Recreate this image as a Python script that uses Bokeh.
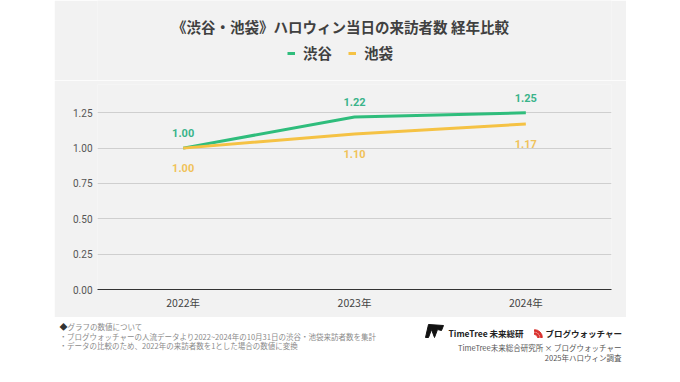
from bokeh.plotting import figure
from bokeh.models import (Range1d, FactorRange, FixedTicker, NumeralTickFormatter,
                          Legend, LegendItem, Spacer, ColumnDataSource)
from bokeh.layouts import column, row
from bokeh.core.properties import value
from bokeh.embed import file_html
from bokeh.resources import INLINE

# ---------------- data ----------------
years = ["2022年", "2023年", "2024年"]
shibuya = [1.00, 1.22, 1.25]
ikebukuro = [1.00, 1.10, 1.17]
series_names = ["渋谷", "池袋"]
y_ticks = [0.0, 0.25, 0.50, 0.75, 1.00, 1.25]
title_text = "《渋谷・池袋》ハロウィン当日の来訪者数 経年比較"
note_head = "グラフの数値について"
notes = [
    "・ブログウォッチャーの人流データより2022~2024年の10月31日の渋谷・池袋来訪者数を集計",
    "・データの比較のため、2022年の来訪者数を1とした場合の数値に変換",
]
brand_1 = "TimeTree 未来総研"
brand_2 = "ブログウォッチャー"
credit_lines = ["TimeTree未来総合研究所 × ブログウォッチャー", "2025年ハロウィン調査"]

# ---------------- style ----------------
BG = "#f2f2f2"
GREEN = "#2fbd7c"
GREEN_LBL = "#3ab48a"
YELLOW = "#f5c244"
YELLOW_LBL = "#f0c25a"
CJK = "Noto Sans CJK JP"
NUM = "Roboto"
NAN = float("nan")

# ---------------- header (title + legend) ----------------
# frames in a column are aligned, so the header frame matches the chart frame (x 97..611)
header = figure(width=572, height=80, x_range=Range1d(97, 611), y_range=Range1d(80, 0),
                x_axis_type=None, y_axis_type=None, toolbar_location=None,
                output_backend="svg", min_border_left=43, min_border_right=15,
                min_border_top=0, min_border_bottom=0, background_fill_color=BG,
                border_fill_color=BG, outline_line_color=None)
header.text(x=[340], y=[25.5], text=[title_text], text_align="center",
            text_baseline="middle", text_font=value(CJK), text_font_size="14.5px",
            text_font_style="bold", text_color="#404040")
r_g = header.line(x=[NAN], y=[NAN], line_color=GREEN, line_width=3)
r_y = header.line(x=[NAN], y=[NAN], line_color=YELLOW, line_width=3)
legend = Legend(items=[LegendItem(label=series_names[0], renderers=[r_g]),
                       LegendItem(label=series_names[1], renderers=[r_y])],
                orientation="horizontal", location=(190, 17), padding=0, margin=0,
                spacing=16, label_standoff=8, glyph_width=8, glyph_height=16,
                label_height=16, label_text_font=CJK, label_text_font_size="14.5px",
                label_text_font_style="bold", label_text_color="#404040",
                label_text_baseline="middle", border_line_color=None,
                background_fill_alpha=0)
header.add_layout(legend)

# ---------------- main chart ----------------
p = figure(width=572, height=237, x_range=FactorRange(*years, range_padding=0),
           y_range=Range1d(0, 1.45), toolbar_location=None, output_backend="svg",
           min_border_left=43, min_border_right=15, min_border_top=4, min_border_bottom=28,
           background_fill_color=BG, border_fill_color=BG, outline_line_color=None)

p.line(x=years, y=shibuya, line_color=GREEN, line_width=3)
p.line(x=years, y=ikebukuro, line_color=YELLOW, line_width=3)

src_g = ColumnDataSource(dict(x=years, y=shibuya, t=[f"{v:.2f}" for v in shibuya]))
src_y = ColumnDataSource(dict(x=years, y=ikebukuro, t=[f"{v:.2f}" for v in ikebukuro]))
p.text(x="x", y="y", text="t", source=src_g, y_offset=-15, text_align="center",
       text_baseline="middle", text_font=value(NUM), text_font_size="11px",
       text_font_style="bold", text_color=GREEN_LBL)
p.text(x="x", y="y", text="t", source=src_y, y_offset=20, text_align="center",
       text_baseline="middle", text_font=value(NUM), text_font_size="11px",
       text_font_style="bold", text_color=YELLOW_LBL)

p.xgrid.grid_line_color = None
p.ygrid.grid_line_color = "#cfcfcf"
p.ygrid.grid_line_width = 1

p.yaxis.ticker = FixedTicker(ticks=y_ticks)
p.yaxis.formatter = NumeralTickFormatter(format="0.00")
p.yaxis.axis_line_color = None
p.yaxis.major_tick_line_color = None
p.yaxis.minor_tick_line_color = None
p.yaxis.major_tick_out = 0
p.yaxis.major_label_standoff = 5
p.yaxis.major_label_text_font = NUM
p.yaxis.major_label_text_font_size = "10px"
p.yaxis.major_label_text_color = "#555555"

p.xaxis.axis_line_color = "#333333"
p.xaxis.axis_line_width = 1.2
p.xaxis.major_tick_line_color = None
p.xaxis.minor_tick_line_color = None
p.xaxis.major_tick_out = 0
p.xaxis.major_label_standoff = 5
p.xaxis.major_label_text_font = CJK
p.xaxis.major_label_text_font_size = "10.5px"
p.xaxis.major_label_text_color = "#444444"

# ---------------- footer ----------------
f = figure(width=672, height=65, x_range=Range1d(0, 672), y_range=Range1d(382, 317),
           x_axis_type=None, y_axis_type=None, toolbar_location=None,
           output_backend="svg", min_border=0, background_fill_color="white",
           border_fill_color="white", outline_line_color=None)

f.text(x=[59], y=[325.5], text=["◆"], text_baseline="middle", text_font=value(CJK),
       text_font_size="8px", text_color="#333333")
f.text(x=[67], y=[325.5], text=[note_head], text_baseline="middle", text_font=value(CJK),
       text_font_size="7.5px", text_color="#8a8a8a")
f.text(x=[59, 59], y=[335.5, 345], text=notes, text_baseline="middle", text_font=value(CJK),
       text_font_size="7.5px", text_color="#8a8a8a")

# logos (decorative)
f.patch(x=[425, 428, 443, 441, 437, 434, 431, 428],
        y=[337, 324, 325, 330, 329, 337, 329, 337], color="#111111")
f.text(x=[448], y=[332.5], text=[brand_1], text_baseline="middle", text_font=value(CJK),
       text_font_size="8.5px", text_font_style="bold", text_color="#222222")
f.annular_wedge(x=[534], y=[337], inner_radius=[3], outer_radius=[4.8],
                start_angle=0, end_angle=1.5708, color="#d9302c")
f.annular_wedge(x=[534], y=[337], inner_radius=[6], outer_radius=[7.8],
                start_angle=0, end_angle=1.5708, color="#d9302c")
f.text(x=[545], y=[332.5], text=[brand_2], text_baseline="middle", text_font=value(CJK),
       text_font_size="8.5px", text_font_style="bold", text_color="#222222")
f.text(x=[621, 621], y=[347, 356.5], text=credit_lines, text_align="right",
       text_baseline="middle", text_font=value(CJK), text_font_size="7.5px",
       text_color="#555555")

layout = column(row(Spacer(width=54, height=317), column(header, p)), f)

open("out.html", "w").write(file_html(layout, INLINE))
